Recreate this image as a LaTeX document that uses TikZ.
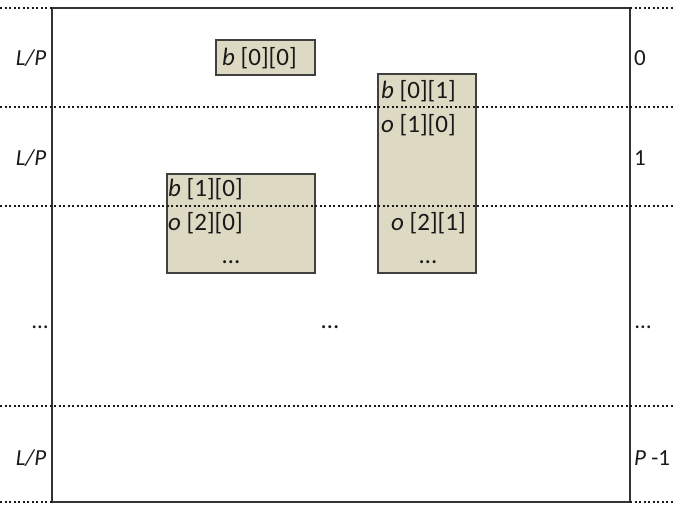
\documentclass[tikz,border=0pt]{standalone}
\usepackage{fontspec}
\setmainfont{Carlito}
\begin{document}
\begin{tikzpicture}[x=1pt,y=-1pt,
  mem/.style={draw=black!75, line width=2pt, fill=beige, inner sep=0pt},
  lbl/.style={inner sep=0pt, font=\fontsize{25}{28}\selectfont, text=black!90},
  side/.style={inner sep=0pt, font=\fontsize{23}{26}\selectfont, text=black!90},
  dotline/.style={line width=2pt, dash pattern=on 2pt off 2.5pt, black!90},
  frame/.style={line width=2.2pt, black!80}]
\definecolor{beige}{HTML}{DDD9C3}
\useasboundingbox (0,0) rectangle (675,505);
% memory boxes
\node[mem, minimum width=99pt, minimum height=35pt] (b00) at (265.5,57.5) {};
\node[mem, minimum width=98pt, minimum height=199pt] (b01) at (427,173.5) {};
\node[mem, minimum width=148pt, minimum height=99pt] (b10) at (241,223.5) {};
% frame
\coordinate (tl) at (52,8);
\coordinate (tr) at (630,8);
\coordinate (bl) at (52,502);
\coordinate (br) at (630,502);
\draw[frame] (tl) -- (tr) -- (br) -- (bl) -- cycle;
% dotted lines
\coordinate (a0) at (0,8);   \coordinate (a1) at (675,8);
\coordinate (c0) at (0,107); \coordinate (c1) at (675,107);
\coordinate (d0) at (0,206); \coordinate (d1) at (675,206);
\coordinate (e0) at (0,406); \coordinate (e1) at (675,406);
\coordinate (f0) at (0,502); \coordinate (f1) at (675,502);
\draw[dotline] (a0) -- (tl);
\draw[dotline] (tr) -- (a1);
\draw[dotline] (c0) -- (c1);
\draw[dotline] (d0) -- (d1);
\draw[dotline] (e0) -- (e1);
\draw[dotline] (f0) -- (bl);
\draw[dotline] (br) -- (f1);
% box texts
\node[lbl, anchor=west] (t00) at (222,58) {\textit{b} [0][0]};
\node[lbl, anchor=west] (t01) at (381,91) {\textit{b} [0][1]};
\node[lbl, anchor=west] (t02) at (381,125) {\textit{o} [1][0]};
\node[lbl, anchor=west] (t03) at (391,223) {\textit{o} [2][1]};
\node[lbl] (t04) at (428,262) {\dots};
\node[lbl, anchor=west] (t10) at (168,189) {\textit{b} [1][0]};
\node[lbl, anchor=west] (t11) at (168,223) {\textit{o} [2][0]};
\node[lbl] (t12) at (231,262) {\dots};
\node[lbl] (mid) at (330,327) {\dots};
% left labels
\node[side] (l0) at (31,58) {\textit{L/P}};
\node[side] (l1) at (31,158) {\textit{L/P}};
\node[side] (l2) at (40,327) {\dots};
\node[side] (l3) at (31,458) {\textit{L/P}};
% right labels
\node[side, anchor=west] (r0) at (634,58) {0};
\node[side, anchor=west] (r1) at (634,158) {1};
\node[side, anchor=west] (r2) at (635,327) {\dots};
\node[side, anchor=west] (r3) at (634,458) {\textit{P} -1};
\end{tikzpicture}
\end{document}
